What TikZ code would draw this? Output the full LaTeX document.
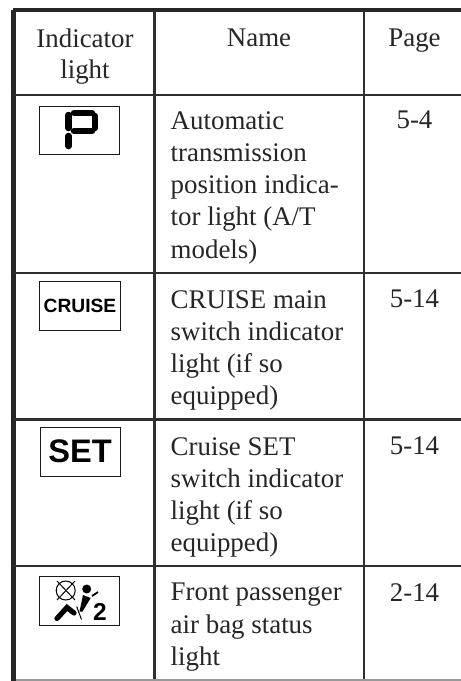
\documentclass[tikz,border=0pt]{standalone}
\usepackage{fontspec}
\setmainfont{Liberation Serif}
\newfontfamily\iconsans{Liberation Sans}
\tikzset{
  x=1pt,y=-1pt,
  thickrule/.style={line width=4.8pt,color=black!85,line cap=butt},
  thinrule/.style={line width=2.4pt,color=black!82,line cap=butt},
  iconbox/.style={draw=black!90,line width=0.8pt,fill=white,minimum width=80.5pt,minimum height=48.5pt,inner sep=0pt,anchor=north west},
  celltext/.style={anchor=north west,align=left,inner sep=0pt,font=\fontsize{26.9pt}{32.3pt}\selectfont,text=black!85},
  headtext/.style={anchor=north,align=center,inner sep=0pt,font=\fontsize{26.9pt}{31.5pt}\selectfont,text=black!85},
  pagetext/.style={anchor=north,inner sep=0pt,font=\fontsize{26.9pt}{32.3pt}\selectfont,text=black!85},
  segment/.style={line width=6.5pt,line cap=round,color=black},
  thinicon/.style={line width=1pt,color=black}
}
\begin{document}
\begin{tikzpicture}
\useasboundingbox (0,0) rectangle (461,681);
\fill[white] (0,0) rectangle (461,681);
\coordinate (tl) at (13.4,10);\coordinate (tr) at (461,10);\coordinate (bl) at (13.4,681);
\coordinate (c1t) at (154.4,10);\coordinate (c1b) at (154.4,681);
\coordinate (c2t) at (363.7,10);\coordinate (c2b) at (363.7,681);
\draw[thickrule] (tl) -- (tr);
\draw[thickrule] (tl) -- (bl);
\draw[thinrule] (c1t) -- (c1b);
\draw[thinrule] (c2t) -- (c2b);
\foreach \nm/\yy in {a/95,b/273,c/419.5,d/566}{
  \coordinate (\nm l) at (13.4,\yy);\coordinate (\nm r) at (461,\yy);
  \draw[thinrule] (\nm l) -- (\nm r);
}
\coordinate (el) at (16,680);\coordinate (er) at (461,680);
\draw[line width=1.6pt,color=black!40] (el) -- (er);
\node[headtext] (h1) at (85,28.5) {Indicator\\light};
\node[headtext] (h2) at (259,28.5) {Name};
\node[headtext] (h3) at (414.5,28.5) {Page};
\node[celltext] (n1) at (170.5,111) {Automatic\\transmission\\position indica-\\tor light (A/T\\models)};
\node[celltext] (n2) at (170.5,290) {CRUISE main\\switch indicator\\light (if so\\equipped)};
\node[celltext] (n3) at (170.5,437) {Cruise SET\\switch indicator\\light (if so\\equipped)};
\node[celltext] (n4) at (170.5,583) {Front passenger\\air bag status\\light};
\node[pagetext] (p1) at (414.5,111) {5-4};
\node[pagetext] (p2) at (414.5,290) {5-14};
\node[pagetext] (p3) at (414.5,437) {5-14};
\node[pagetext] (p4) at (414.5,583) {2-14};
\node[iconbox] (i1) at (38.5,105.5) {};
\draw[segment] (68.5,115)--(68.5,128);\draw[segment] (68.5,136)--(68.5,146);
\draw[segment] (74,113)--(92,113);\draw[segment] (74,131)--(92,131);\draw[segment] (95,116)--(95,128);
\node[iconbox] (i2) at (39.3,281) {\iconsans\bfseries\fontsize{19.2pt}{19.2pt}\selectfont CRUISE};
\node[iconbox] (i3) at (39.5,427) {\iconsans\bfseries\fontsize{32.6pt}{32.6pt}\selectfont SET};
\node[iconbox] (i4) at (38.5,576) {};
% air bag status icon
\draw[thinicon] (65.7,590.5) circle (9.5);
\draw[thinicon] (57,581) -- (75,600);
\draw[thinicon] (75,581) -- (57,600);
\fill (86.7,589) circle (4.5);
\fill (83,595) -- (90.7,598) -- (82.5,611.5) -- (79.5,611.5) -- cycle;
\draw[line width=1.8pt] (92,596) -- (98,592);
\draw[line width=5.2pt,line cap=round] (57,618.5) -- (67,607.5) -- (74,613);
\draw[line width=1pt] (76.7,606.5) -- (81.5,619.5);
\node[inner sep=0pt,font=\iconsans\bfseries\fontsize{24.5pt}{24.5pt}\selectfont] (two) at (100,612) {2};
\end{tikzpicture}
\end{document}
